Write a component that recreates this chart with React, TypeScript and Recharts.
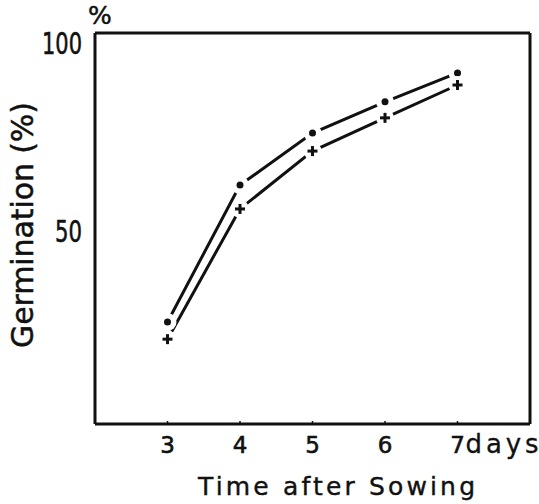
import React from 'react';
import { ComposedChart, Line, Scatter, XAxis, YAxis, ReferenceLine } from 'recharts';

const days = [3, 4, 5, 6, 7];
const circleSeries = [26.1, 61.1, 74.4, 82.4, 89.8];
const plusSeries = [21.7, 55.0, 69.8, 78.3, 86.7];
const xTicks = [3, 4, 5, 6, 7];
const yTicks = [50, 100];
const xTitle = 'Time after Sowing';
const yTitle = 'Germination (%)';
const yUnit = '%';
const xUnit = 'days';

const data = days.map((d, i) => ({ day: d, circle: circleSeries[i], plus: plusSeries[i] }));

const INK = '#111';
const FONT = '"DejaVu Sans", Verdana, sans-serif';

const CircleDot = (props: any) => {
  const { cx, cy } = props;
  if (cx == null || cy == null) return <g />;
  return (
    <g>
      <circle cx={cx} cy={cy} r={9} fill="#ffffff" stroke="none" />
      <circle cx={cx} cy={cy} r={3.5} fill={INK} />
    </g>
  );
};

const PlusDot = (props: any) => {
  const { cx, cy } = props;
  if (cx == null || cy == null) return <g />;
  return (
    <g>
      <circle cx={cx} cy={cy} r={9} fill="#ffffff" stroke="none" />
      <rect x={cx - 5} y={cy - 1.5} width={10} height={3} fill={INK} />
      <rect x={cx - 1.5} y={cy - 5} width={3} height={10} fill={INK} />
    </g>
  );
};

const XTick = (props: any) => {
  const { x, y, payload } = props;
  const isLast = payload.value === xTicks[xTicks.length - 1];
  return (
    <g>
      <line x1={x} x2={x} y1={y} y2={y - 3} stroke={INK} strokeWidth={1.5} />
      <text x={x} y={y + 29} textAnchor="middle" fontSize={23} fontFamily={FONT} fill={INK} stroke={INK} strokeWidth={0.6}>
        {payload.value}
      </text>
      {isLast && (
        <text x={x + 8} y={y + 29} textAnchor="start" fontSize={26} fontFamily={FONT} fill={INK} stroke={INK} strokeWidth={0.3} textLength={73} lengthAdjust="spacing">
          {xUnit}
        </text>
      )}
    </g>
  );
};

const YTick = (props: any) => {
  const { x, y, payload } = props;
  const isTop = payload.value === yTicks[yTicks.length - 1];
  const w = String(payload.value).length === 3 ? 40 : 27;
  return (
    <g>
      <text x={x - 13} y={y + (isTop ? 21 : 13)} textAnchor="end" fontSize={31} fontFamily={FONT} fill={INK} stroke={INK} strokeWidth={0.6} textLength={w} lengthAdjust="spacingAndGlyphs">
        {payload.value}
      </text>
    </g>
  );
};

const XTitle = () => (
  <text x={198} y={495} textAnchor="start" fontSize={25} fontFamily={FONT} fill={INK} stroke={INK} strokeWidth={0.4} textLength={277} lengthAdjust="spacing">
    {xTitle}
  </text>
);

const YTitle = () => (
  <g>
    <text x={33} y={225} transform="rotate(-90 33 225)" textAnchor="middle" fontSize={30} fontFamily={FONT} fill={INK} stroke={INK} strokeWidth={0.5} textLength={246} lengthAdjust="spacing">
      {yTitle}
    </text>
    <text x={100} y={24} textAnchor="middle" fontSize={25} fontFamily={FONT} fill={INK} stroke={INK} strokeWidth={0.5}>
      {yUnit}
    </text>
  </g>
);

export default function App() {
  return (
    <div style={{ position: 'absolute', left: 0, top: 0, background: '#fff' }}>
      <ComposedChart width={539} height={504} data={data} margin={{ top: 33, right: 9, bottom: 0, left: 0 }}>
        <XAxis
          dataKey="day"
          type="number"
          domain={[2, 8]}
          ticks={xTicks}
          tickSize={0}
          tickMargin={0}
          tick={<XTick />}
          axisLine={{ stroke: INK, strokeWidth: 3 }}
          tickLine={false}
          height={80}
          allowDataOverflow
          label={{ content: () => <XTitle /> }}
        />
        <YAxis
          type="number"
          domain={[0, 100]}
          ticks={yTicks}
          tickSize={0}
          tickMargin={0}
          tick={<YTick />}
          axisLine={{ stroke: INK, strokeWidth: 3 }}
          tickLine={false}
          width={95}
          allowDataOverflow
          label={{ content: () => <YTitle /> }}
        />
        <ReferenceLine y={100} stroke={INK} strokeWidth={3} />
        <ReferenceLine x={8} stroke={INK} strokeWidth={3} />
        <Line dataKey="circle" stroke={INK} strokeWidth={3} dot={false} activeDot={false} isAnimationActive={false} />
        <Line dataKey="plus" stroke={INK} strokeWidth={3} dot={false} activeDot={false} isAnimationActive={false} />
        <Scatter dataKey="circle" shape={<CircleDot />} isAnimationActive={false} />
        <Scatter dataKey="plus" shape={<PlusDot />} isAnimationActive={false} />
      </ComposedChart>
    </div>
  );
}
